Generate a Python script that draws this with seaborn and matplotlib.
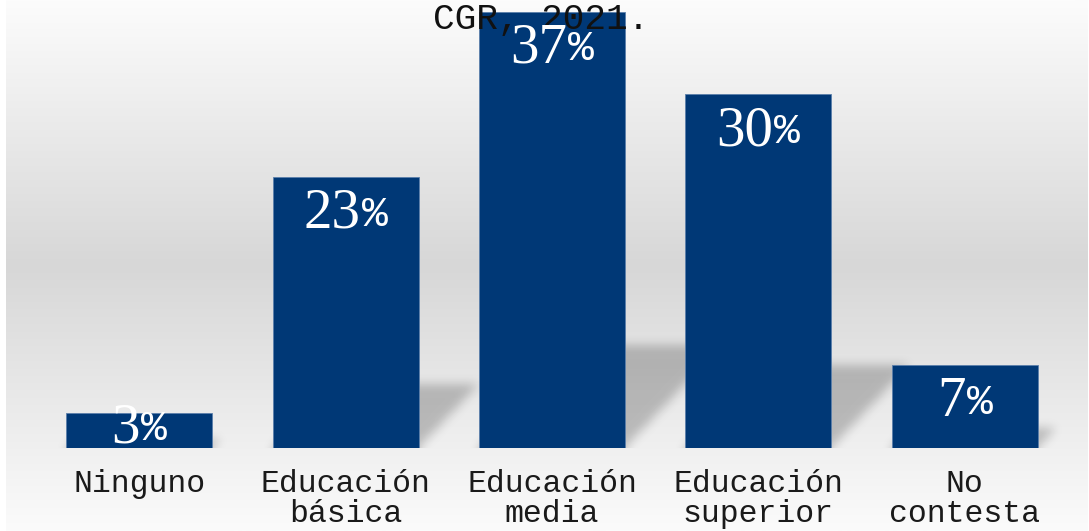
import numpy as np
import pandas as pd
import matplotlib
matplotlib.use("Agg")
import matplotlib.pyplot as plt
import matplotlib.transforms as mtransforms
from matplotlib.colors import LinearSegmentedColormap
import seaborn as sns

# Nivel educativo (porcentaje de respuestas)
categorias = ["Ninguno", "Educación\nbásica", "Educación\nmedia", "Educación\nsuperior", "No\ncontesta"]
porcentajes = [3, 23, 37, 30, 7]
titulo = "CGR, 2021."

BAR_COLOR = "#003876"
MONO = "Liberation Mono"
SERIF = "Liberation Serif"

sns.set_theme(style="white")
plt.rcParams["font.family"] = [MONO, "DejaVu Sans"]

W, H, DPI = 1089, 531, 100
fig = plt.figure(figsize=(W / DPI, H / DPI), dpi=DPI, facecolor="white")

# Vertical grey gradient behind the plot
bg = fig.add_axes([6 / W, 0, 1082 / W, 1], zorder=-10)
bg.axis("off")
grad_cmap = LinearSegmentedColormap.from_list(
    "bg", [(0.0, "#fcfcfc"), (0.5, "#d7d7d7"), (1.0, "#fbfbfb")])
bg.imshow(np.linspace(0, 1, 256)[:, None], aspect="auto", cmap=grad_cmap,
          extent=(0, 1, 0, 1), origin="upper")
bg.set_xlim(0, 1)
bg.set_ylim(0, 1)

ax = fig.add_axes([36 / W, (H - 448) / H, 1032 / W, 448 / H])
ax.patch.set_alpha(0)

df = pd.DataFrame({"categoria": categorias, "porcentaje": porcentajes})
bar_w = 0.707
sns.barplot(data=df, x="categoria", y="porcentaje", color=BAR_COLOR,
            saturation=1, width=bar_w, ax=ax, zorder=3,
            edgecolor="#5b7fab", linewidth=0.6)

ymax = 38.0
ax.set_xlim(-0.5, len(categorias) - 0.5)
ax.set_ylim(0, ymax)

# Perspective shadows cast behind each bar (blurred parallelograms)
px_x = 1032 / len(categorias)        # pixels per category
px_y = 448 / ymax                     # pixels per percent
gw, gh = 1032, 448
xs = np.linspace(-0.5, len(categorias) - 0.5, gw)
ys = np.linspace(0, ymax, gh)
X, Y = np.meshgrid(xs, ys)
mask = np.zeros((gh, gw))
for i, v in enumerate(porcentajes):
    hs = 0.235 * v                          # shadow height (data units)
    shift_top = 0.95 * hs * px_y / px_x     # horizontal skew at shadow top
    t = np.clip(Y / hs, 0, None)
    left = i - bar_w / 2 + shift_top * t
    right = i + bar_w / 2 + shift_top * t
    inside = (Y <= hs) & (X >= left) & (X <= right)
    mask[inside] = 1.0


def gauss_blur(a, sigma):
    r = int(3 * sigma)
    k = np.exp(-0.5 * (np.arange(-r, r + 1) / sigma) ** 2)
    k /= k.sum()
    a = np.apply_along_axis(lambda m: np.convolve(np.pad(m, r, mode="edge"), k, mode="valid"), 1, a)
    a = np.apply_along_axis(lambda m: np.convolve(np.pad(m, r, mode="edge"), k, mode="valid"), 0, a)
    return a


mask = gauss_blur(mask, 5.0)
shadow = np.zeros((gh, gw, 4))
shadow[..., 3] = 0.22 * mask
ax.imshow(shadow, extent=(-0.5, len(categorias) - 0.5, 0, ymax), origin="lower",
          aspect="auto", zorder=2, interpolation="bilinear")
ax.set_xlim(-0.5, len(categorias) - 0.5)
ax.set_ylim(0, ymax)

# Title text, drawn over the bars
ax.text(541 / W, 1 - 29 / H, titulo, transform=fig.transFigure, ha="center",
        va="baseline", fontsize=26, family=[MONO, "DejaVu Sans"], color="#111111", zorder=4)

for s in ax.spines.values():
    s.set_visible(False)
ax.set_yticks([])
ax.set_xlabel("")
ax.set_ylabel("")
ax.tick_params(axis="x", length=0, pad=15, labelsize=22.7, colors="#1a1a1a")
ax.set_xticks(range(len(categorias)))
ax.set_xticklabels(categorias, family=[MONO, "DejaVu Sans"], linespacing=1.0)

# Value labels: serif digits followed by a monospace percent sign
labels = []
for i, v in enumerate(porcentajes):
    y = max(v - 4.3, 0.5)
    num = ax.text(i, y, f"{v}", ha="left", va="baseline", color="white",
                  fontsize=41, family=SERIF, zorder=5)
    pct = ax.text(i, y, "%", ha="left", va="baseline", color="white",
                  fontsize=31, family=MONO, zorder=5)
    labels.append((i, y, num, pct))

fig.canvas.draw()
renderer = fig.canvas.get_renderer()
for i, y, num, pct in labels:
    wn = num.get_window_extent(renderer).width
    wp = pct.get_window_extent(renderer).width
    gap = 1
    total = wn + gap + wp
    num.set_transform(mtransforms.offset_copy(ax.transData, fig=fig, x=-total / 2 * 72 / DPI,
                                              y=0, units="points"))
    pct.set_transform(mtransforms.offset_copy(ax.transData, fig=fig,
                                              x=(-total / 2 + wn + gap) * 72 / DPI,
                                              y=2 * 72 / DPI, units="points"))

fig.savefig("out.png", dpi=DPI, facecolor=fig.get_facecolor())
